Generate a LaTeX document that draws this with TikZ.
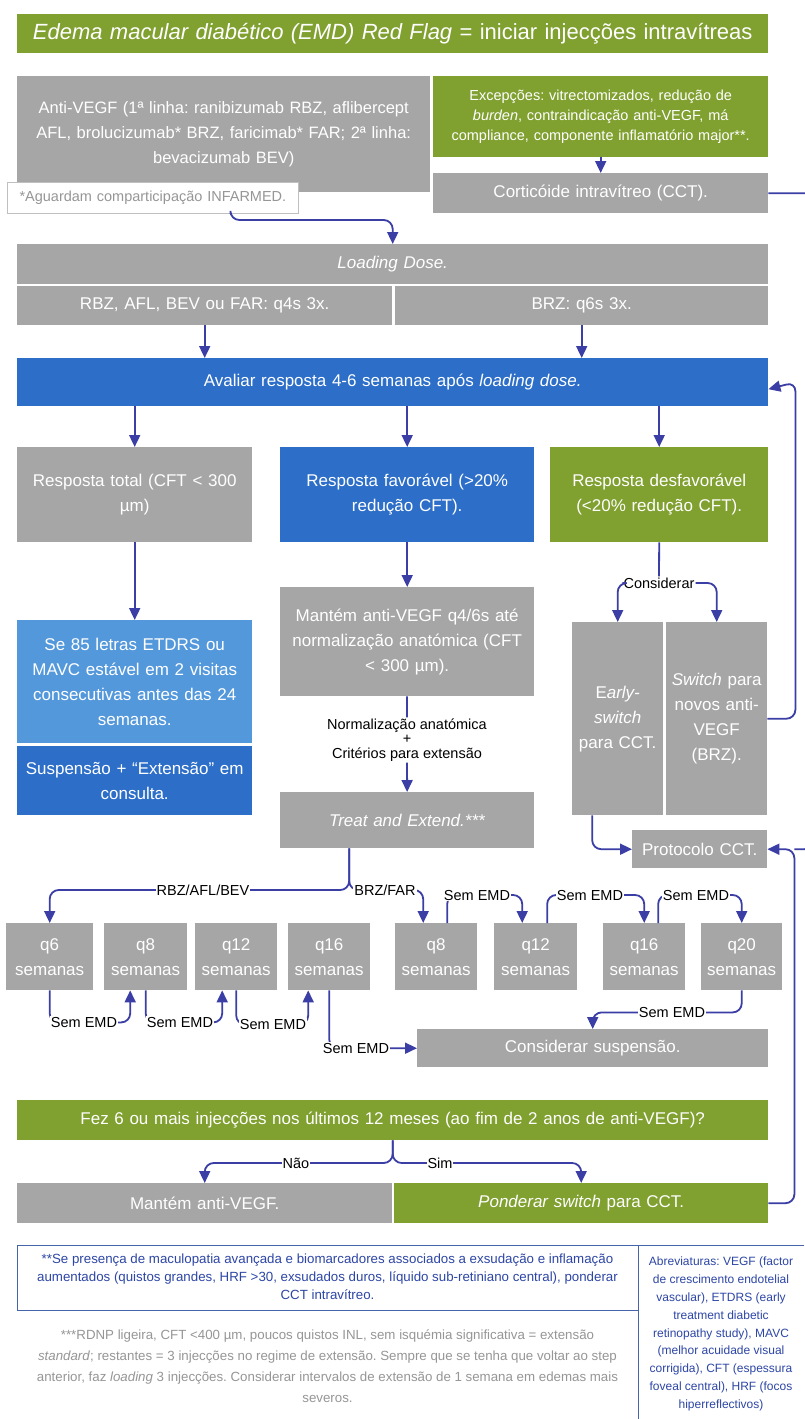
\documentclass[tikz,border=0pt]{standalone}
\usepackage{fontspec}
\setmainfont{Liberation Sans}
\usetikzlibrary{arrows.meta,calc}
\frenchspacing
\definecolor{boxgray}{RGB}{166,166,166}
\definecolor{boxgreen}{RGB}{128,160,48}
\definecolor{boxblue}{RGB}{44,110,200}
\definecolor{lightblue}{RGB}{84,152,220}
\definecolor{arrowblue}{RGB}{58,62,165}
\definecolor{notegray}{RGB}{150,150,150}
\definecolor{noteblue}{RGB}{45,70,165}
\definecolor{noteline}{RGB}{70,100,170}
\newcommand\bx[7]{%
  \pgfmathsetmacro\bxw{#4-#2}\pgfmathsetmacro\bxh{#5-#3}\pgfmathsetmacro\bxt{#4-#2-2}%
  \node[#6, anchor=north west, minimum width=\bxw pt, minimum height=\bxh pt, text width=\bxt pt] (#1) at (#2,#3) {#7};}
\begin{document}
\begin{tikzpicture}[x=1pt,y=-1pt,
  base/.style={inner sep=0pt, align=center, text=white, font=\fontsize{17}{25}\selectfont},
  graybox/.style={base, fill=boxgray},
  greenbox/.style={base, fill=boxgreen},
  bluebox/.style={base, fill=boxblue},
  lbluebox/.style={base, fill=lightblue},
  conn/.style={draw=arrowblue, line width=1.8pt, rounded corners=9pt, -{Triangle[length=12pt,width=11pt]}},
  plain/.style={draw=arrowblue, line width=1.8pt, rounded corners=9pt},
  lab/.style={fill=white, inner sep=1pt, text=black, font=\fontsize{14.5}{15}\selectfont},
  note/.style={draw=noteline, line width=1pt}
]
\useasboundingbox[fill=white] (0,0) rectangle (804,1419);

% top
\bx{title}{17}{14}{768}{53}{greenbox,font=\fontsize{22}{26}\selectfont}{\textit{Edema macular diabético (EMD) Red Flag} = iniciar injecções intravítreas}
\bx{antivegf}{17}{76}{430}{192}{graybox,font=\fontsize{16.5}{25}\selectfont}{Anti-VEGF (1ª linha: ranibizumab RBZ, aflibercept\\AFL, brolucizumab* BRZ, faricimab* FAR; 2ª linha:\\bevacizumab BEV)\\[8pt]}
\bx{excep}{433}{76}{768}{157}{greenbox,font=\fontsize{14.5}{20}\selectfont}{Excepções: vitrectomizados, redução de\\\textit{burden}, contraindicação anti-VEGF, má\\compliance, componente inflamatório major**.}
\bx{cort}{433}{173}{768}{213}{graybox}{Corticóide intravítreo (CCT).}
\bx{aguard}{7}{182}{298}{213}{base,fill=white,draw=black!25,line width=0.8pt,text=notegray,font=\fontsize{14.5}{16}\selectfont}{*Aguardam comparticipação INFARMED.}

\bx{loading}{17}{244}{768}{284}{graybox}{\textit{Loading Dose.}}
\bx{rbz}{17}{286}{392}{325}{graybox}{RBZ, AFL, BEV ou FAR: q4s 3x.}
\bx{brz}{395}{286}{768}{325}{graybox}{BRZ: q6s 3x.}
\bx{avaliar}{17}{358}{768}{406}{bluebox}{Avaliar resposta 4-6 semanas após \textit{loading dose.}}

\bx{rtotal}{17}{447}{252}{542}{graybox}{Resposta total (CFT < 300\\µm)}
\bx{rfav}{280}{447}{534}{542}{bluebox}{Resposta favorável (>20\%\\redução CFT).}
\bx{rdesf}{550}{447}{768}{542}{greenbox}{Resposta desfavorável\\(<20\% redução CFT).}

\bx{se85}{17}{620}{252}{743}{lbluebox}{Se 85 letras ETDRS ou\\MAVC estável em 2 visitas\\consecutivas antes das 24\\semanas.}
\bx{susp}{17}{746}{252}{815}{bluebox}{Suspensão + “Extensão” em\\consulta.}
\bx{mantem}{280}{587}{534}{696}{graybox}{Mantém anti-VEGF q4/6s até\\normalização anatómica (CFT\\< 300 µm).}
\bx{tae}{280}{792}{534}{848}{graybox}{\textit{Treat and Extend.***}}
\bx{early}{572}{622}{663}{815}{graybox}{E\textit{arly-}\\\textit{switch}\\para CCT.}
\bx{switch}{666}{622}{767}{815}{graybox}{\textit{Switch} para\\novos anti-\\VEGF\\(BRZ).}
\bx{proto}{632}{830}{767}{868}{graybox}{Protocolo CCT.}

% q boxes
\bx{qa6}{6}{923}{93}{990}{graybox}{q6\\semanas}
\bx{qa8}{104}{923}{187}{990}{graybox}{q8\\semanas}
\bx{qa12}{195}{923}{277}{990}{graybox}{q12\\semanas}
\bx{qa16}{288}{923}{370}{990}{graybox}{q16\\semanas}
\bx{qb8}{395}{923}{477}{990}{graybox}{q8\\semanas}
\bx{qb12}{494}{923}{577}{990}{graybox}{q12\\semanas}
\bx{qb16}{603}{923}{685}{990}{graybox}{q16\\semanas}
\bx{qb20}{701}{923}{782}{990}{graybox}{q20\\semanas}
\bx{cons}{417}{1029}{768}{1067}{graybox}{Considerar suspensão.}

\bx{fez}{17}{1100}{768}{1140}{greenbox}{Fez 6 ou mais injecções nos últimos 12 meses (ao fim de 2 anos de anti-VEGF)?}
\bx{mant2}{17}{1183}{392}{1223}{graybox}{Mantém anti-VEGF.}
\bx{ponder}{394}{1183}{768}{1223}{greenbox}{\textit{Ponderar switch} para CCT.}

% connectors top
\draw[conn] (excep) -- (cort);
\draw[conn] ([xshift=77.5pt]aguard.south) |- ([yshift=24pt]loading.north) -- (loading.north);
\draw[conn] (rbz.south) -- (rbz.south |- avaliar.north);
\draw[conn] (brz.south) -- (brz.south |- avaliar.north);
\draw[conn] (rtotal.north |- avaliar.south) -- (rtotal.north);
\draw[conn] (rfav.north |- avaliar.south) -- (rfav.north);
\draw[conn] (rdesf.north |- avaliar.south) -- (rdesf.north);
\draw[conn] (rtotal) -- (se85);
\draw[conn] (rfav) -- (mantem);

\node[lab, align=center, font=\fontsize{14.5}{14.5}\selectfont] (norm) at (407,740) {Normalização anatómica\\+\\Critérios para extensão};
\draw[plain] (mantem) -- (norm);
\draw[conn] (norm) -- (tae);

\node[lab] (consid) at (659,583) {Considerar};
\draw[plain] (rdesf.south) -- (consid.north);
\draw[conn] (consid.west) -| (early.north);
\draw[conn] (consid.east) -| (switch.north);

\draw[conn] (switch.east) -| ($(avaliar.east)+(27,0)$) -- ([yshift=-7pt]avaliar.east -| avaliar.east);
\draw[conn] ([xshift=-25.5pt]early.south) |- (proto.west);
\draw[plain] (cort.east) -- ++(45,0) |- ($(proto.east)+(27,0)$);
\draw[conn] (ponder.east) -| ($(proto.east)+(27,0)$) -- (proto.east);

% treat and extend split
\draw[conn] ([xshift=-58pt]tae.south) |- ([yshift=33pt]qa6.north) -- (qa6.north);
\draw[conn] ([xshift=-58pt]tae.south) |- ([xshift=-13pt,yshift=33pt]qb8.north) -- ([xshift=-13pt]qb8.north);
\node[lab] (lrbz) at (203,890) {RBZ/AFL/BEV};
\node[lab] (lbrz) at (385,890) {BRZ/FAR};

% lower loops
\draw[conn] (qa6.south) -- ++(0,32) -| ([xshift=-15.5pt]qa8.south);
\node[lab] (s1) at (84,1022) {Sem EMD};
\draw[conn] (qa8.south) -- ++(0,32) -| ([xshift=-14pt]qa12.south);
\node[lab] (s2) at (180,1022) {Sem EMD};
\draw[conn] (qa12.south) -- ++(0,34) -| ([xshift=-21pt]qa16.south);
\node[lab] (s3) at (273,1024) {Sem EMD};
\draw[conn] (qa16.south) |- (cons.west);
\node[lab] (s4) at (356,1048) {Sem EMD};

% upper loops
\draw[conn] ([xshift=11pt]qb8.north) -- ++(0,-28) -| ([xshift=-13.5pt]qb12.north);
\node[lab] (s5) at (477,895) {Sem EMD};
\draw[conn] ([xshift=11.5pt]qb12.north) -- ++(0,-28) -| (qb16.north);
\node[lab] (s6) at (590,895) {Sem EMD};
\draw[conn] ([xshift=14pt]qb16.north) -- ++(0,-28) -| (qb20.north);
\node[lab] (s7) at (696,895) {Sem EMD};
\draw[conn] (qb20.south) -- ++(0,22) -| (cons.north);
\node[lab] (s8) at (672,1012) {Sem EMD};

% fez split
\draw[conn] (fez.south) |- ([yshift=20pt]mant2.north) -- (mant2.north);
\draw[conn] (fez.south) |- ([yshift=20pt]ponder.north) -- (ponder.north);
\node[lab] (nao) at (296,1163) {Não};
\node[lab] (sim) at (440,1163) {Sim};

% footnotes
\draw[note] (17,1245) rectangle (638,1310);
\draw[note] (638,1245) -- (804,1245);
\draw[note] (638,1245) -- (638,1419);
\node[text=noteblue, align=center, font=\fontsize{13.3}{18}\selectfont] (n2) at (327.5,1277) {**Se presença de maculopatia avançada e biomarcadores associados a exsudação e inflamação\\aumentados (quistos grandes, HRF >30, exsudados duros, líquido sub-retiniano central), ponderar\\CCT intravítreo.};
\node[text=notegray, align=center, font=\fontsize{13.3}{21}\selectfont] (n3) at (327.5,1366) {***RDNP ligeira, CFT <400 µm, poucos quistos INL, sem isquémia significativa = extensão\\\textit{standard}; restantes = 3 injecções no regime de extensão. Sempre que se tenha que voltar ao step\\anterior, faz \textit{loading} 3 injecções. Considerar intervalos de extensão de 1 semana em edemas mais\\severos.};
\node[text=noteblue, align=center, font=\fontsize{12}{17.8}\selectfont] (abr) at (721,1334) {Abreviaturas: VEGF (factor\\de crescimento endotelial\\vascular), ETDRS (early\\treatment diabetic\\retinopathy study), MAVC\\(melhor acuidade visual\\corrigida), CFT (espessura\\foveal central), HRF (focos\\hiperreflectivos)};
\end{tikzpicture}
\end{document}
